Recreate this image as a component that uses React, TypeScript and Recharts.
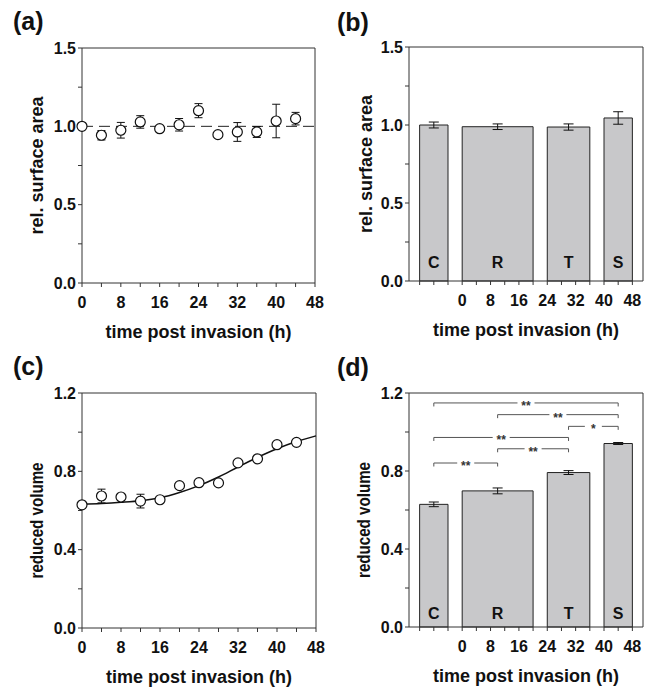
import React from 'react';
import {
  ComposedChart,
  XAxis,
  YAxis,
  Scatter,
  ErrorBar,
  Line,
  ReferenceLine,
  ReferenceArea,
  ReferenceDot,
} from 'recharts';

const FONT = '"Liberation Sans", Arial, Helvetica, sans-serif';

// ---------- Panel (a): relative surface area over time ----------
const timePoints = [0, 4, 8, 12, 16, 20, 24, 28, 32, 36, 40, 44];
const areaMean = [1.0, 0.943, 0.975, 1.028, 0.985, 1.01, 1.1, 0.947, 0.964, 0.964, 1.034, 1.049];
const areaErr = [0, 0.03, 0.05, 0.04, 0, 0.04, 0.045, 0, 0.06, 0.035, 0.107, 0.04];

// ---------- Panel (c): reduced volume over time ----------
const volMean = [0.629, 0.674, 0.669, 0.648, 0.655, 0.727, 0.742, 0.741, 0.843, 0.864, 0.936, 0.948];
const volErr = [0, 0.035, 0.015, 0.035, 0, 0, 0, 0, 0, 0, 0, 0];
const fitTime = [0, 4, 8, 12, 16, 20, 24, 28, 32, 36, 40, 44, 48];
const fitVol = [0.632, 0.636, 0.642, 0.65, 0.665, 0.692, 0.727, 0.771, 0.822, 0.871, 0.915, 0.952, 0.981];

// ---------- Panels (b), (d): stage groups ----------
const groups = ['C', 'R', 'T', 'S'];
const groupStart = [-12, 0, 24, 40];
const groupEnd = [-4, 20, 36, 48];
const groupArea = [1.0, 0.989, 0.987, 1.045];
const groupAreaErr = [0.019, 0.018, 0.02, 0.04];
const groupVol = [0.629, 0.698, 0.792, 0.941];
const groupVolErr = [0.012, 0.015, 0.01, 0.005];

// significance brackets in (d)
const pairFrom = ['C', 'R', 'T', 'C', 'R', 'C'];
const pairTo = ['S', 'S', 'S', 'T', 'T', 'R'];
const pairLevel = [1.149, 1.089, 1.029, 0.972, 0.914, 0.841];
const pairMark = ['**', '**', '*', '**', '**', '**'];

// ---------- ticks ----------
const timeTicks = [0, 4, 8, 12, 16, 20, 24, 28, 32, 36, 40, 44, 48];
const groupTicks = [-12, -8, -4, 0, 4, 8, 12, 16, 20, 24, 28, 32, 36, 40, 44, 48];
const areaTicks = [0, 0.25, 0.5, 0.75, 1.0, 1.25, 1.5];
const volTicks = [0, 0.2, 0.4, 0.6, 0.8, 1.0, 1.2];

const fmtHour = (v: number) => (v >= 0 && v % 8 === 0 ? String(v) : '');
const fmtEvery = (step: number) => (v: number) =>
  Math.abs(v / step - Math.round(v / step)) < 1e-6 ? v.toFixed(1) : '';

const AX = '#333';
const tickStyle = { fontSize: 16, fontWeight: 700, fill: '#111', fontFamily: FONT };

const xTitle = (text: string) => (props: any) => {
  const vb = props.viewBox || {};
  return (
    <text
      x={vb.x + vb.width / 2}
      y={vb.y + 55}
      textAnchor="middle"
      style={{ fontSize: 18, fontWeight: 700, fontFamily: FONT, fill: '#111' }}
    >
      {text}
    </text>
  );
};

const yTitle = (text: string, bx: number, shift: number, fitLength?: number) => (props: any) => {
  const vb = props.viewBox || {};
  const cy = vb.y + vb.height / 2 + shift;
  const extra: any = fitLength ? { textLength: fitLength, lengthAdjust: 'spacingAndGlyphs' } : {};
  return (
    <text
      x={bx}
      y={cy}
      transform={`rotate(-90 ${bx} ${cy})`}
      textAnchor="middle"
      {...extra}
      style={{ fontSize: 18, fontWeight: 700, fontFamily: FONT, fill: '#111' }}
    >
      {text}
    </text>
  );
};

const noShape = () => <g />;
const openCircle = (p: any) => (
  <circle cx={p.cx} cy={p.cy} r={5} fill="#fff" stroke="#111" strokeWidth={1.2} />
);

const center = (i: number) => (groupStart[i] + groupEnd[i]) / 2;

function PanelA() {
  const pts = timePoints.map((x, i) => ({ x, y: areaMean[i], err: areaErr[i] }));
  const errPts = pts.filter((p) => p.err > 0);
  return (
    <ComposedChart width={325} height={345} margin={{ top: 48, right: 10, bottom: 32, left: 22 }}>
      <XAxis
        type="number"
        dataKey="x"
        domain={[0, 48]}
        ticks={timeTicks}
        interval={0}
        tickFormatter={fmtHour}
        tick={tickStyle}
        tickSize={4}
        tickMargin={10}
        stroke={AX}
        height={30}
        label={xTitle('time post invasion (h)')}
      />
      <YAxis
        type="number"
        dataKey="y"
        domain={[0, 1.5]}
        ticks={areaTicks}
        interval={0}
        tickFormatter={fmtEvery(0.5)}
        tick={tickStyle}
        tickSize={4}
        tickMargin={2}
        stroke={AX}
        width={60}
        label={yTitle('rel. surface area', 43, 0)}
      />
      <ReferenceLine y={1.5} stroke={AX} />
      <ReferenceLine x={48} stroke={AX} />
      <ReferenceLine y={1} stroke="#222" strokeDasharray="11 6" />
      <Scatter data={errPts} shape={noShape} isAnimationActive={false}>
        <ErrorBar dataKey="err" direction="y" width={4} stroke="#111" strokeWidth={1} />
      </Scatter>
      <Scatter data={pts} shape={openCircle} isAnimationActive={false} />
    </ComposedChart>
  );
}

function PanelC() {
  const pts = timePoints.map((x, i) => ({ x, y: volMean[i], err: volErr[i] }));
  const errPts = pts.filter((p) => p.err > 0);
  const fit = fitTime.map((x, i) => ({ x, y: fitVol[i] }));
  return (
    <ComposedChart width={325} height={345} margin={{ top: 48, right: 9, bottom: 32, left: 22 }}>
      <XAxis
        type="number"
        dataKey="x"
        domain={[0, 48]}
        ticks={timeTicks}
        interval={0}
        tickFormatter={fmtHour}
        tick={tickStyle}
        tickSize={4}
        tickMargin={10}
        stroke={AX}
        height={30}
        label={xTitle('time post invasion (h)')}
      />
      <YAxis
        type="number"
        dataKey="y"
        domain={[0, 1.2]}
        ticks={volTicks}
        interval={0}
        tickFormatter={fmtEvery(0.4)}
        tick={tickStyle}
        tickSize={4}
        tickMargin={2}
        stroke={AX}
        width={60}
        label={yTitle('reduced volume', 43, 10, 116)}
      />
      <ReferenceLine y={1.2} stroke={AX} />
      <ReferenceLine x={48} stroke={AX} />
      <Line
        data={fit}
        dataKey="y"
        type="monotone"
        dot={false}
        stroke="#111"
        strokeWidth={1.5}
        isAnimationActive={false}
      />
      <Scatter data={errPts} shape={noShape} isAnimationActive={false}>
        <ErrorBar dataKey="err" direction="y" width={4} stroke="#111" strokeWidth={1} />
      </Scatter>
      <Scatter data={pts} shape={openCircle} isAnimationActive={false} />
    </ComposedChart>
  );
}

function GroupPanel(props: {
  values: number[];
  errs: number[];
  yMax: number;
  yTicks: number[];
  step: number;
  yLabel: string;
  yLabelX: number;
  yShift: number;
  yFit?: number;
  letterOffset: number;
  margin: any;
  brackets?: boolean;
}) {
  const { values, errs, yMax, yTicks, step, yLabel, yLabelX, yShift, yFit, letterOffset, margin, brackets } = props;
  const errPts = groups.map((g, i) => ({ x: center(i), y: values[i], err: errs[i] }));
  const idx = (g: string) => groups.indexOf(g);
  return (
    <ComposedChart width={326} height={345} margin={margin}>
      <XAxis
        type="number"
        dataKey="x"
        domain={[-15, 51]}
        ticks={groupTicks}
        interval={0}
        tickFormatter={fmtHour}
        tick={tickStyle}
        tickSize={4}
        tickMargin={10}
        stroke={AX}
        height={30}
        allowDataOverflow
        label={xTitle('time post invasion (h)')}
      />
      <YAxis
        type="number"
        dataKey="y"
        domain={[0, yMax]}
        ticks={yTicks}
        interval={0}
        tickFormatter={fmtEvery(step)}
        tick={tickStyle}
        tickSize={4}
        tickMargin={2}
        stroke={AX}
        width={60}
        allowDataOverflow
        label={yTitle(yLabel, yLabelX, yShift, yFit)}
      />
      {groups.map((g, i) => (
        <ReferenceArea
          key={g}
          x1={groupStart[i]}
          x2={groupEnd[i]}
          y1={0}
          y2={values[i]}
          fill="#c8c8ca"
          fillOpacity={1}
          stroke="#222"
          strokeWidth={1}
          label={{
            value: g,
            position: 'insideBottom',
            offset: letterOffset,
            fontSize: 16,
            fontWeight: 700,
            fill: '#111',
            fontFamily: FONT,
          }}
        />
      ))}
      <ReferenceLine y={yMax} stroke={AX} />
      <ReferenceLine x={51} stroke={AX} />
      <Scatter data={errPts} shape={noShape} isAnimationActive={false}>
        <ErrorBar dataKey="err" direction="y" width={5} stroke="#111" strokeWidth={1} />
      </Scatter>
      {brackets &&
        pairFrom.map((f, k) => {
          const a = center(idx(f));
          const b = center(idx(pairTo[k]));
          const lv = pairLevel[k];
          const mid = (a + b) / 2;
          const gap = 2.4;
          const drop = 0.018;
          return [
            <ReferenceLine key={`l${k}`} segment={[{ x: a, y: lv }, { x: mid - gap, y: lv }]} stroke="#555" />,
            <ReferenceLine key={`r${k}`} segment={[{ x: mid + gap, y: lv }, { x: b, y: lv }]} stroke="#555" />,
            <ReferenceLine key={`a${k}`} segment={[{ x: a, y: lv }, { x: a, y: lv - drop }]} stroke="#555" />,
            <ReferenceLine key={`b${k}`} segment={[{ x: b, y: lv }, { x: b, y: lv - drop }]} stroke="#555" />,
            <ReferenceDot
              key={`t${k}`}
              x={mid}
              y={lv}
              r={0}
              fill="none"
              stroke="none"
              label={(lp: any) => {
                const vb = lp.viewBox || {};
                const cx = vb.x + (vb.width || 0) / 2;
                const cy = vb.y + (vb.height || 0) / 2;
                return (
                  <text
                    x={cx}
                    y={cy + 7}
                    textAnchor="middle"
                    style={{ fontSize: 12, fontWeight: 700, fontFamily: FONT, fill: '#333' }}
                  >
                    {pairMark[k]}
                  </text>
                );
              }}
            />,
          ];
        })}
    </ComposedChart>
  );
}

export default function App() {
  return (
    <div
      style={{
        position: 'absolute',
        left: 0,
        top: 0,
        width: 651,
        height: 690,
        background: '#fff',
        fontFamily: FONT,
      }}
    >
      <div style={{ position: 'absolute', left: 0, top: 0 }}>
        <PanelA />
      </div>
      <div style={{ position: 'absolute', left: 325, top: 0 }}>
        <GroupPanel
          values={groupArea}
          errs={groupAreaErr}
          yMax={1.5}
          yTicks={areaTicks}
          step={0.5}
          yLabel="rel. surface area"
          yLabelX={47}
          yShift={0}
          letterOffset={13}
          margin={{ top: 47, right: 8, bottom: 34, left: 24 }}
        />
      </div>
      <div style={{ position: 'absolute', left: 0, top: 345 }}>
        <PanelC />
      </div>
      <div style={{ position: 'absolute', left: 325, top: 345 }}>
        <GroupPanel
          values={groupVol}
          errs={groupVolErr}
          yMax={1.2}
          yTicks={volTicks}
          step={0.4}
          yLabel="reduced volume"
          yLabelX={45}
          yShift={10}
          yFit={116}
          letterOffset={8}
          margin={{ top: 48, right: 8, bottom: 33, left: 24 }}
          brackets
        />
      </div>
      <svg
        width={651}
        height={690}
        style={{ position: 'absolute', left: 0, top: 0, pointerEvents: 'none' }}
      >
        <g style={{ fontSize: 25, fontWeight: 700, fontFamily: FONT, fill: '#111' }}>
          <text x={13} y={30}>(a)</text>
          <text x={337} y={31}>(b)</text>
          <text x={13} y={375}>(c)</text>
          <text x={337} y={376}>(d)</text>
        </g>
      </svg>
    </div>
  );
}
